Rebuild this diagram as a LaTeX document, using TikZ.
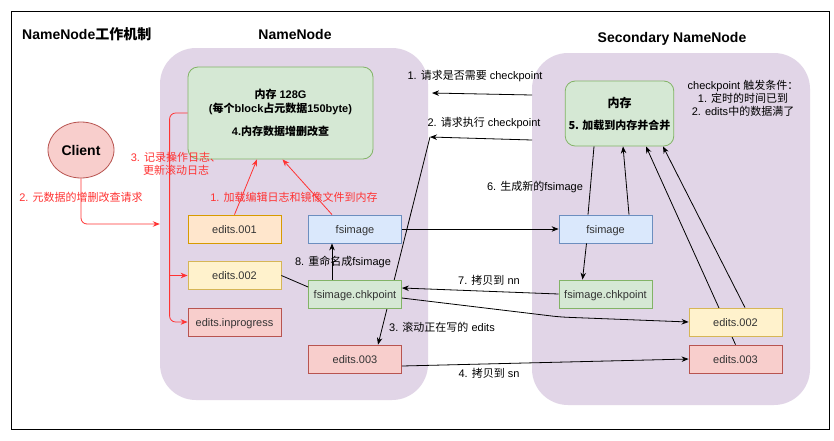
\documentclass[tikz,border=0pt]{standalone}
\usepackage{fontspec}
\setmainfont{Liberation Sans}
\newfontfamily\cjk{Noto Sans CJK SC}
\newcommand{\zh}[1]{{\cjk #1}}
\usetikzlibrary{arrows.meta,shapes.geometric}
\definecolor{AreaPurple}{HTML}{E1D5E7}
\definecolor{MemGreen}{HTML}{D5E8D4}
\definecolor{MemGreenLine}{HTML}{82B366}
\definecolor{ImgBlue}{HTML}{DAE8FC}
\definecolor{ImgBlueLine}{HTML}{6C8EBF}
\definecolor{LogOrange}{HTML}{FFE6CC}
\definecolor{LogOrangeLine}{HTML}{D79B00}
\definecolor{LogYellow}{HTML}{FFF2CC}
\definecolor{LogYellowLine}{HTML}{D6B656}
\definecolor{LogRed}{HTML}{F8CECC}
\definecolor{LogRedLine}{HTML}{B85450}
\definecolor{NoteRed}{HTML}{FF3333}
\definecolor{BoxText}{HTML}{333333}
\pgfdeclarelayer{areas}
\pgfdeclarelayer{under}
\pgfsetlayers{areas,under,main}

\tikzset{
  area/.style={fill=AreaPurple, rounded corners=36pt},
  filebox/.style={draw, line width=0.8pt, minimum width=93pt, minimum height=28pt,
    inner sep=1pt, text height=8.5pt, text depth=0.5pt, text=BoxText,
    font=\fontsize{11}{13}\selectfont},
  membox/.style={draw=MemGreenLine, fill=MemGreen, line width=0.8pt, rounded corners=10pt,
    align=center, font=\bfseries\fontsize{11}{14}\selectfont},
  lbl/.style={font=\fontsize{11}{13}\selectfont, inner sep=1pt},
  redlbl/.style={lbl, text=NoteRed, align=center},
  title/.style={font=\bfseries\fontsize{14}{16}\selectfont, inner sep=0pt},
  flow/.style={line width=0.8pt, -{Stealth[length=7pt,width=5.5pt]}},
  plain/.style={line width=0.8pt},
  redflow/.style={flow, draw=NoteRed},
}

\begin{document}
\begin{tikzpicture}[x=1pt,y=-1pt]
  \useasboundingbox (0,0) rectangle (834,440);
  \begin{pgfonlayer}{areas}
    \fill[white] (0,0) rectangle (834,440);
    \draw[line width=1pt] (11,11) rectangle (829,429);
    \node[area, minimum width=268pt, minimum height=352pt] (nnarea) at (294,224) {};
    \node[area, minimum width=278pt, minimum height=352pt] (snnarea) at (671,229) {};
  \end{pgfonlayer}

  % titles
  \node[title, anchor=west] (maintitle) at (22,34) {NameNode\zh{工作机制}};
  \node[title] (nntitle) at (295,34) {NameNode};
  \node[title] (snntitle) at (672,39) {Secondary NameNode};

  % NameNode side
  \node[draw=LogRedLine, fill=LogRed, ellipse, line width=0.8pt, minimum width=66pt,
    minimum height=56pt, font=\bfseries\fontsize{14}{16}\selectfont] (client) at (81,150) {Client};
  \node[membox, minimum width=185pt, minimum height=92pt] (nnmem) at (280.5,113)
    {\zh{内存} 128G\\(\zh{每个}block\zh{占元数据}150byte)\\[9pt]4.\zh{内存数据增删改查}};
  \node[filebox, draw=LogOrangeLine, fill=LogOrange] (nnedit1) at (234.5,229) {edits.001};
  \node[filebox, draw=LogYellowLine, fill=LogYellow] (nnedit2) at (234.5,275.5) {edits.002};
  \node[filebox, draw=LogRedLine, fill=LogRed] (nninprog) at (234.5,322) {edits.inprogress};
  \node[filebox, draw=ImgBlueLine, fill=ImgBlue] (nnimg) at (355,229) {fsimage};
  \node[filebox, draw=MemGreenLine, fill=MemGreen] (nnchk) at (355,294) {fsimage.chkpoint};
  \node[filebox, draw=LogRedLine, fill=LogRed] (nnedit3) at (355,359) {edits.003};

  % Secondary NameNode side
  \node[membox, minimum width=101pt, minimum height=65pt] (snnmem) at (619.5,113.5)
    {\fontsize{12}{14}\selectfont\zh{内存}\\[8pt]\zh{5. 加载到内存并合并}};
  \node[filebox, draw=ImgBlueLine, fill=ImgBlue] (snnimg) at (605.5,229) {fsimage};
  \node[filebox, draw=MemGreenLine, fill=MemGreen] (snnchk) at (605.5,294) {fsimage.chkpoint};
  \node[filebox, draw=LogYellowLine, fill=LogYellow] (snnedit2) at (735.5,322) {edits.002};
  \node[filebox, draw=LogRedLine, fill=LogRed] (snnedit3) at (735.5,359) {edits.003};
  \node[lbl, align=center] (trigger) at (743,98)
    {checkpoint \zh{触发条件：}\\1. \zh{定时的时间已到}\\2. edits\zh{中的数据满了}};

  % red steps
  \draw[redflow, rounded corners=6pt] (client.south) |- (nnarea.west);
  \draw[redflow, rounded corners=6pt] (nnmem.west) -- ++(-18,0) |- (nninprog.west);
  \draw[redflow] ([xshift=-18pt]nnedit2.west) -- (nnedit2.west);
  \draw[redflow] (nnedit1.north) -- ([xshift=-23.5pt]nnmem.south);
  \draw[redflow] ([xshift=-23pt]nnimg.north) -- ([xshift=2pt]nnmem.south);
  \node[redlbl] (step2) at (81,197) {2. \zh{元数据的增删改查请求}};
  \node[redlbl] (step3) at (176,164) {3. \zh{记录操作日志、}\\\zh{更新滚动日志}};
  \node[redlbl] (step1) at (294,197) {1. \zh{加载编辑日志和镜像文件到内存}};

  % checkpoint requests
  \coordinate (askfrom) at (532,95);
  \coordinate (askto) at (432,93);
  \coordinate (runfrom) at (532,140);
  \coordinate (runto) at (430,137);
  \coordinate (sendbend) at (560,317);
  \draw[flow] (askfrom) -- (askto);
  \draw[flow] (runfrom) -- (runto);
  \begin{pgfonlayer}{under}
    \draw[flow] (runto) -- ([xshift=23pt]nnedit3.north);
    \draw[flow] (snnedit3.north) -- ([xshift=26.5pt]snnmem.south);
  \end{pgfonlayer}
  \node[lbl] (asklbl) at (475,76) {1. \zh{请求是否需要} checkpoint};
  \node[lbl] (runlbl) at (484,123) {2. \zh{请求执行} checkpoint};
  \node[lbl] (rolllbl) at (442,327) {3. \zh{滚动正在写的} edits};

  % copy and merge
  \draw[flow] (nnimg.east) -- (snnimg.west);
  \draw[flow] ([yshift=-7pt]nnedit3.east) -- (snnedit3.west);
  \draw[flow, rounded corners=8pt] ([yshift=-4pt]nnchk.east) -- (sendbend) -- (snnedit2.west);
  \draw[flow] (snnchk.west) -- ([yshift=6pt]nnchk.east);
  \draw[plain] (nnedit2.east) -- ([yshift=7pt]nnchk.west);
  \draw[flow] ([xshift=-23pt]nnchk.north) -- ([xshift=-23pt]nnimg.south);
  \draw[plain] ([xshift=-25.5pt]snnmem.south) -- ([xshift=-17.5pt]snnimg.north);
  \draw[flow] ([xshift=23.5pt]snnimg.north) -- ([xshift=3.5pt]snnmem.south);
  \draw[flow] ([xshift=-19pt]snnimg.south) -- ([xshift=-23pt]snnchk.north);
  \draw[flow] ([xshift=9.5pt]snnedit2.north) -- ([xshift=43.5pt]snnmem.south);
  \node[lbl] (newimglbl) at (535,187) {6. \zh{生成新的}fsimage};
  \node[lbl] (backlbl) at (489,280) {7. \zh{拷贝到} nn};
  \node[lbl] (copylbl) at (489,373) {4. \zh{拷贝到} sn};
  \node[lbl] (renamelbl) at (343,262) {8. \zh{重命名成}fsimage};
\end{tikzpicture}
\end{document}
